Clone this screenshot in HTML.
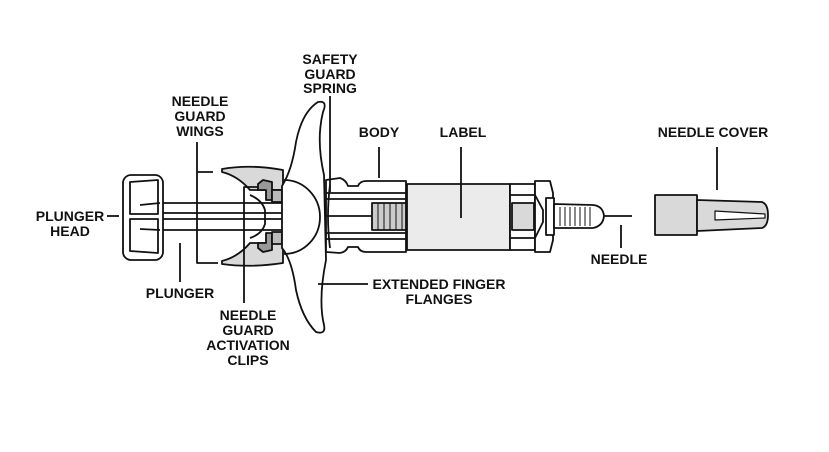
<!DOCTYPE html>
<html><head><style>
html,body{margin:0;padding:0;background:#fff;}
svg{display:block;}
text{font-family:"Liberation Sans",Arial,sans-serif;font-weight:bold;font-size:14px;fill:#111;}
</style></head><body>
<svg width="829" height="452" viewBox="0 0 829 452" xmlns="http://www.w3.org/2000/svg">
<g stroke="#111" stroke-width="1.8" fill="none" stroke-linejoin="round">
<!-- plunger rods -->
<line x1="160" y1="203" x2="290" y2="203"/>
<line x1="160" y1="230" x2="290" y2="230"/>
<line x1="160" y1="213" x2="290" y2="213"/>
<line x1="160" y1="219" x2="290" y2="219"/>
<!-- plunger head -->
<rect x="123" y="175" width="40" height="85" rx="8" fill="#fff"/>
<path d="M130 182 L158 180 L158 214 L130 214 Z M130 219 L158 219 L158 253 L130 251 Z"/>
<line x1="140" y1="205" x2="160" y2="203"/>
<line x1="140" y1="229" x2="160" y2="230"/>
<!-- wings -->
<path d="M222 169 Q250 164 283 170 L283 190 L250 190 Q238 176 222 172 Z" fill="#d9d9d9"/>
<path d="M222 264 Q250 268 283 263 L283 243 L250 243 Q238 257 222 261 Z" fill="#d9d9d9"/>
<!-- clips -->
<path d="M258 184 L263 180 L272 182 L272 200 L266 200 L266 190 L258 190 Z" fill="#999"/>
<path d="M258 248 L263 252 L272 250 L272 233 L266 233 L266 243 L258 243 Z" fill="#999"/>
<rect x="272" y="190" width="10" height="12" fill="#bbb"/>
<rect x="272" y="232" width="10" height="12" fill="#bbb"/>
<path d="M250 195 Q262 200 265 210 L265 224 Q262 234 250 238"/>
<!-- flange -->
<path d="M318 102 Q328 100 323 112 Q316 140 324 175 L326 260 Q318 300 324 325 Q326 335 316 332 Q302 318 296 290 Q292 260 282 248 L282 186 Q292 170 296 142 Q302 112 318 102 Z" fill="#fff"/>
<path d="M284 180 A36 37 0 0 1 284 254"/>
<!-- body -->
<path d="M326 180 L340 178 Q346 180 348 186 L358 186 Q360 181 366 181 L406 181 L406 252 L366 252 Q360 252 358 247 L348 247 Q346 252 340 253 L326 252 Z" fill="#fff"/>
<line x1="326" y1="193" x2="406" y2="193"/>
<line x1="326" y1="199" x2="406" y2="199"/>
<line x1="326" y1="233" x2="406" y2="233"/>
<line x1="326" y1="239" x2="406" y2="239"/>
<line x1="326" y1="216" x2="372" y2="216"/>
<rect x="372" y="203" width="34" height="27" fill="#ccc"/>
<g stroke-width="1"><line x1="378" y1="203" x2="378" y2="230"/><line x1="384" y1="203" x2="384" y2="230"/><line x1="390" y1="203" x2="390" y2="230"/><line x1="396" y1="203" x2="396" y2="230"/><line x1="402" y1="203" x2="402" y2="230"/></g>
<path d="M330 185 Q326 216 330 248"/>
<!-- label -->
<rect x="407" y="184" width="103" height="66" fill="#ebebeb"/>
<rect x="510" y="184" width="25" height="66" fill="#fff"/>
<rect x="512" y="203" width="22" height="27" fill="#d9d9d9"/>
<line x1="510" y1="195" x2="535" y2="195"/><line x1="510" y1="238" x2="535" y2="238"/>
<!-- hub -->
<path d="M535 181 L550 181 L553 193 L553 240 L550 252 L535 252 Z" fill="#fff"/>
<path d="M535 195 L543 210 L543 222 L535 238"/>
<rect x="546" y="198" width="8" height="37" fill="#fff"/>
<!-- needle thread -->
<path d="M554 204 L593 205 Q603 206 604 216 Q603 226 593 228 L554 228 Z" fill="#fff"/>
<g stroke-width="1"><line x1="560" y1="207" x2="560" y2="226"/><line x1="565" y1="207" x2="565" y2="226"/><line x1="570" y1="207" x2="570" y2="226"/><line x1="575" y1="207" x2="575" y2="226"/><line x1="580" y1="207" x2="580" y2="226"/><line x1="585" y1="207" x2="585" y2="226"/><line x1="590" y1="207" x2="590" y2="226"/></g>
<line x1="604" y1="216" x2="632" y2="216"/>
<!-- needle cover -->
<rect x="655" y="195" width="42" height="40" fill="#d9d9d9"/>
<path d="M697 200 L762 202 Q768 204 768 215 Q768 226 762 228 L697 231 Z" fill="#d9d9d9"/>
<path d="M715 211 L765 214 L765 218 L715 220 Z" fill="#fff" stroke-width="1.2"/>
<!-- leaders -->
<line x1="330" y1="96" x2="330" y2="192"/>
<line x1="379" y1="147" x2="379" y2="178"/>
<line x1="461" y1="147" x2="461" y2="218"/>
<line x1="717" y1="147" x2="717" y2="190"/>
<line x1="107" y1="216" x2="119" y2="216"/>
<path d="M213 172 L197 172 L197 263 L218 263"/>
<line x1="197" y1="142" x2="197" y2="172"/>
<line x1="180" y1="243" x2="180" y2="282"/>
<path d="M258 187 L244 187 L244 303"/>
<line x1="318" y1="284" x2="368" y2="284"/>
<line x1="621" y1="225" x2="621" y2="248"/>
</g>
<g text-anchor="middle">
<text x="330" y="64">SAFETY</text><text x="330" y="79">GUARD</text><text x="330" y="93">SPRING</text>
<text x="200" y="106">NEEDLE</text><text x="200" y="121">GUARD</text><text x="200" y="136">WINGS</text>
<text x="379" y="137">BODY</text>
<text x="463" y="137">LABEL</text>
<text x="713" y="137">NEEDLE COVER</text>
<text x="70" y="221">PLUNGER</text><text x="70" y="236">HEAD</text>
<text x="180" y="298">PLUNGER</text>
<text x="248" y="320">NEEDLE</text><text x="248" y="335">GUARD</text><text x="248" y="350">ACTIVATION</text><text x="248" y="365">CLIPS</text>
<text x="439" y="289">EXTENDED FINGER</text><text x="439" y="304">FLANGES</text>
<text x="619" y="264">NEEDLE</text>
</g>
</svg>
</body></html>
